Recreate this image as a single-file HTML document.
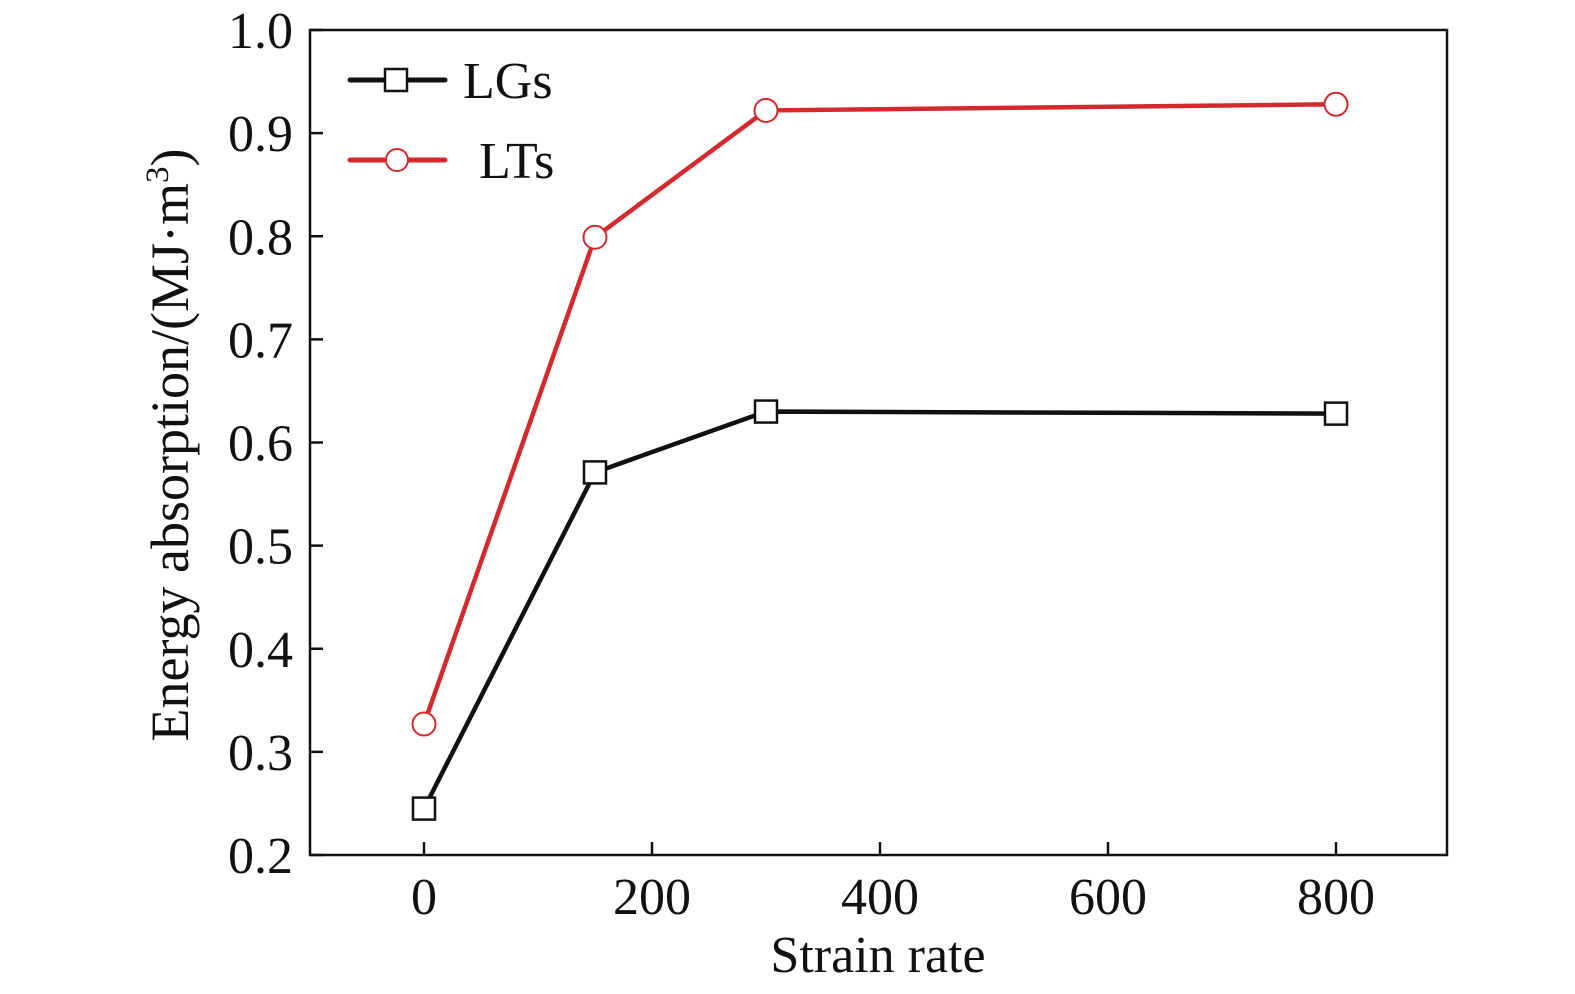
<!DOCTYPE html>
<html><head><meta charset="utf-8"><style>
body{margin:0;background:#fff}
svg{display:block;font-family:"Liberation Serif",serif}
</style></head><body>
<svg id="c" width="1575" height="994" viewBox="0 0 1575 994"></svg>
<script>
const xTicks=[0,200,400,600,800];
const yTicks=[0.2,0.3,0.4,0.5,0.6,0.7,0.8,0.9,1.0];
const strainRates=[0,150,300,800];
const lgsValues=[0.245,0.571,0.630,0.628];
const ltsValues=[0.327,0.799,0.922,0.928];
const L=310,R=1447,T=30,B=855;
const X=v=>424+v*1.14;
const Y=v=>B-(v-0.2)/0.8*(B-T);
const svg=document.getElementById('c');
const NS='http://www.w3.org/2000/svg';
function mk(tag,a,parent){const e=document.createElementNS(NS,tag);for(const k in a)e.setAttribute(k,a[k]);(parent||svg).appendChild(e);return e;}
let e=mk('rect',{x:L,y:T,width:R-L,height:B-T,fill:'none',stroke:'#111','stroke-width':2.5});


xTicks.forEach(v=>{
 let t=mk('line',{x1:X(v),x2:X(v),y1:B,y2:B-13,stroke:'#111','stroke-width':2.5});
 
 
 let l=mk('text',{x:X(v),y:914,'font-size':52,'text-anchor':'middle',fill:'#111'});l.textContent=v;
 
 
});
yTicks.forEach(v=>{
 let t=mk('line',{x1:L,x2:L+13,y1:Y(v),y2:Y(v),stroke:'#111','stroke-width':2.5});
 
 
 let l=mk('text',{x:293,y:Y(v)+18,'font-size':52,'text-anchor':'end',fill:'#111'});l.textContent=v.toFixed(1);
 
 
});
let xt=mk('text',{x:878,y:972,'font-size':52,'text-anchor':'middle',fill:'#111'});xt.textContent='Strain rate';


let yt=mk('text',{transform:'translate(188,445) rotate(-90)','font-size':54,'text-anchor':'middle',fill:'#111'});
yt.innerHTML='Energy absorption/(MJ·m<tspan dy="-20" font-size="33">3</tspan><tspan dy="20">)</tspan>';


function series(vals,color,shape,name){
 const g=mk('g',{});
 
 
 let p=mk('polyline',{points:vals.map((v,i)=>X(strainRates[i])+','+Y(v)).join(' '),fill:'none',stroke:color,'stroke-width':4.5},g);
 
 
 vals.forEach((v,i)=>{
  let m=shape==='sq'?mk('rect',{x:X(strainRates[i])-11,y:Y(v)-11,width:22,height:22,fill:'#fff',stroke:color,'stroke-width':2.5},g)
   :mk('circle',{cx:X(strainRates[i]),cy:Y(v),r:11.5,fill:'#fff',stroke:color,'stroke-width':2},g);
  
  
 });
}
series(lgsValues,'#111','sq','lgs');
series(ltsValues,'#d42a2e','ci','lts');
function leg(y,color,shape,label,tx,name){
 const g=mk('g',{});
 
 
 mk('line',{x1:350,x2:445,y1:y,y2:y,stroke:color,'stroke-width':5,'stroke-linecap':'round'},g);
 if(shape==='sq')mk('rect',{x:385,y:y-11,width:22,height:22,fill:'#fff',stroke:color,'stroke-width':2.5},g);
 else mk('circle',{cx:397,cy:y,r:11,fill:'#fff',stroke:color,'stroke-width':2},g);
 let t=mk('text',{x:tx,y:y+18,'font-size':52,fill:'#111'},g);t.textContent=label;
}
leg(80,'#111','sq','LGs',463,'lgs');
leg(160,'#d42a2e','ci','LTs',479,'lts');
</script>
</body></html>
